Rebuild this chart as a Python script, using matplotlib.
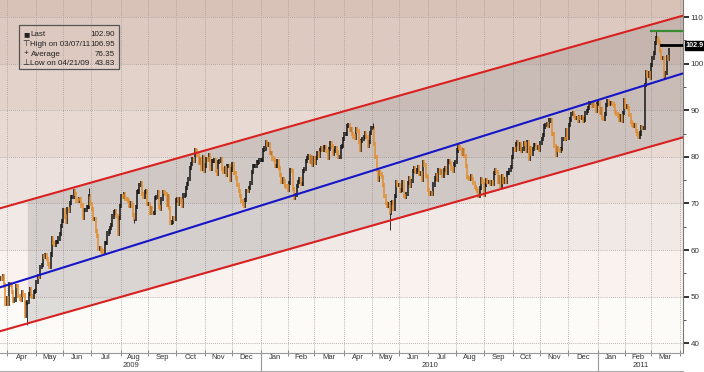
import numpy as np
import pandas as pd
import matplotlib
matplotlib.use("Agg")
import matplotlib.pyplot as plt
import matplotlib.transforms as mtransforms
from matplotlib.lines import Line2D
from matplotlib.patches import Rectangle

plt.rcParams["font.family"] = ["Liberation Sans", "DejaVu Sans"]

# ---------------- data ----------------
start_date = "2009-03-23"
first_open = 53.0
closes = [
    53.80, 53.98, 53.77, 54.34, 52.38,
    48.41, 49.66, 48.39, 52.64, 52.51,
    51.05, 49.15, 49.38, 52.24, 52.20,
    50.05, 49.41, 49.25, 50.98, 50.33,
    45.88, 48.55, 48.85, 50.62, 51.55,
    50.14, 49.92, 50.97, 51.12, 53.20,
    54.47, 54.16, 56.34, 56.71, 58.63,
    58.50, 58.85, 58.02, 56.98, 56.34,
    59.03, 62.45, 61.45, 61.05, 61.67,
    61.67, 62.45, 63.45, 65.08, 66.31,
    68.58, 67.20, 66.12, 68.81, 68.44,
    70.01, 71.33, 71.33, 72.68, 72.04,
    70.62, 70.47, 71.03, 70.89, 69.55,
    66.93, 68.67, 68.67, 69.16, 69.16,
    71.49, 69.89, 68.88, 66.73, 66.73,
    64.05, 62.93, 60.14, 60.41, 59.89,
    59.69, 59.52, 61.54, 61.54, 63.56,
    63.98, 64.72, 65.40, 67.20, 68.05,
    68.38, 67.23, 63.35, 66.94, 69.45,
    71.58, 71.42, 71.97, 70.94, 70.93,
    70.60, 69.45, 70.16, 69.57, 67.51,
    66.75, 69.19, 72.42, 72.54, 73.89,
    74.37, 72.05, 71.43, 72.49, 72.74,
    69.96, 69.96, 68.05, 68.96, 68.02,
    68.02, 71.10, 71.31, 72.47, 69.29,
    68.86, 70.93, 72.51, 72.47, 72.04,
    69.71, 71.55, 68.97, 65.89, 66.02,
    66.84, 66.71, 70.61, 70.82, 69.95,
    70.88, 70.41, 69.57, 71.69, 71.77,
    73.27, 74.15, 75.18, 77.58, 78.53,
    79.61, 79.09, 81.37, 81.19, 80.50,
    78.68, 79.55, 77.46, 79.87, 77.00,
    78.13, 79.60, 79.40, 80.40, 77.43,
    79.05, 79.05, 79.28, 76.94, 76.35,
    78.90, 79.14, 79.58, 77.46, 76.72,
    77.56, 76.02, 77.96, 77.96, 75.05,
    77.28, 78.37, 76.60, 76.46, 75.47,
    73.93, 72.62, 71.67, 70.54, 69.87,
    69.51, 70.69, 72.66, 72.58, 73.36,
    74.40, 76.67, 78.02, 78.05, 78.05,
    78.77, 78.87, 79.36, 79.36, 79.36,
    81.51, 81.77, 83.18, 82.66, 82.75,
    80.79, 80.79, 79.65, 79.39, 78.00,
    78.00, 79.02, 77.62, 76.08, 74.54,
    75.26, 74.71, 73.67, 73.64, 72.89,
    74.43, 77.23, 76.98, 73.14, 71.19,
    71.89, 73.75, 74.52, 75.28, 74.13,
    74.13, 77.01, 77.33, 79.06, 79.81,
    80.16, 78.86, 80.00, 78.17, 79.66,
    78.70, 79.68, 80.87, 80.21, 81.50,
    81.87, 81.49, 82.09, 82.11, 81.24,
    79.80, 81.70, 82.93, 82.20, 80.68,
    81.25, 81.91, 80.91, 80.00, 80.00,
    82.17, 82.37, 83.76, 84.87, 84.87,
    86.62, 86.84, 85.88, 85.88, 84.92,
    84.34, 84.05, 85.84, 85.51, 83.24,
    81.45, 83.45, 83.85, 84.20, 85.12,
    84.20, 82.44, 83.22, 85.17, 86.15,
    86.19, 82.74, 79.97, 77.11, 75.11,
    76.80, 76.37, 75.65, 73.94, 71.61,
    70.08, 69.41, 69.87, 68.01, 70.04,
    70.21, 68.75, 71.51, 74.55, 73.97,
    73.97, 72.58, 72.86, 74.61, 71.51,
    71.44, 71.99, 74.38, 75.48, 73.78,
    74.78, 76.94, 77.67, 76.79, 77.18,
    77.85, 76.35, 76.51, 75.11, 78.86,
    78.26, 75.94, 75.63, 72.95, 72.14,
    72.14, 71.98, 74.07, 75.36, 76.09,
    75.00, 77.15, 76.62, 77.00, 76.01,
    77.14, 77.49, 76.52, 78.98, 78.98,
    78.70, 77.50, 77.00, 78.36, 78.95,
    81.34, 82.55, 82.01, 81.74, 80.70,
    81.48, 80.25, 78.02, 75.74, 75.39,
    75.24, 75.77, 75.24, 74.43, 73.46,
    73.10, 72.63, 71.63, 73.36, 75.17,
    74.70, 71.92, 73.91, 75.02, 74.60,
    74.60, 74.11, 74.67, 74.25, 76.45,
    77.19, 76.80, 74.55, 75.57, 73.66,
    75.86, 74.71, 75.18, 74.71, 76.49,
    76.53, 77.18, 77.86, 79.97, 81.58,
    81.47, 82.82, 83.23, 81.67, 82.66,
    81.24, 81.67, 83.01, 82.69, 81.25,
    83.08, 79.49, 81.77, 80.56, 81.69,
    82.52, 82.55, 81.94, 82.18, 81.43,
    82.95, 83.90, 84.69, 86.49, 86.85,
    87.06, 86.72, 87.81, 87.81, 84.88,
    84.86, 82.34, 80.44, 81.85, 81.51,
    81.25, 81.74, 83.86, 83.86, 83.76,
    85.73, 84.11, 86.75, 88.00, 89.19,
    89.38, 88.69, 88.28, 88.37, 87.79,
    88.61, 88.28, 88.62, 87.70, 88.02,
    89.37, 89.82, 90.48, 91.51, 91.51,
    91.00, 91.49, 90.86, 89.84, 91.38,
    91.55, 89.38, 90.30, 88.38, 88.03,
    89.25, 91.11, 91.86, 91.40, 91.54,
    91.54, 91.38, 90.86, 89.60, 89.11,
    88.87, 87.90, 88.80, 87.60, 89.34,
    92.19, 90.77, 90.86, 90.54, 89.03,
    87.48, 86.94, 86.71, 86.73, 85.58,
    84.81, 84.32, 84.99, 86.36, 86.20,
    86.20, 95.42, 98.10, 97.28, 97.88,
    96.97, 99.63, 101.23, 102.23, 104.42,
    105.44, 105.02, 104.38, 102.70, 101.16,
    101.19, 97.18, 97.98, 101.42, 101.07,
    102.90,
]
# notable wicks (day index, extreme value)
wick_days = [22, 70, 105, 290, 303, 510, 516]
wick_values = [43.83, 73.38, 65.80, 87.15, 64.24, 106.95, 96.60]

# channel / trend lines (values at day index 0 and 531)
line_days = [0, 531]
upper_channel = [68.89, 110.32]
lower_channel = [42.51, 84.20]
mid_trend = [51.93, 97.93]
shade_start_day = 22

legend_labels = ["Last", "High on 03/07/11", "Average", "Low on 04/21/09"]
legend_values = ["102.90", "106.95", "76.35", "43.83"]
legend_symbols = ["\u25A0", "\u22A4", "+", "\u22A5"]
legend_symbol_sizes = [7.5, 6.0, 6.0, 6.0]
last_value = 102.90
last_tag = "102.9"
high_value = 106.95
high_line_start = 506
last_line_start = 514

y_ticks = [40, 50, 60, 70, 80, 90, 100, 110]
y_minor = [45, 55, 65, 75, 85, 95, 105]
month_names = ["Jan", "Feb", "Mar", "Apr", "May", "Jun", "Jul", "Aug",
               "Sep", "Oct", "Nov", "Dec"]
years = ["2009", "2010", "2011"]

# ---------------- figure ----------------
W, H = 704, 372
fig = plt.figure(figsize=(W / 100, H / 100), dpi=100)
fig.patch.set_facecolor("white")
ax = fig.add_axes([0, 1 - 353 / H, 683 / W, 353 / H])
xmin, xmax = 0.79, 530.7
ymin, ymax = 37.9, 113.65
ax.set_xlim(xmin, xmax)
ax.set_ylim(ymin, ymax)

# background bands
band_edges = [ymin, 50, 60, 70, 80, 90, 100, 110, ymax]
band_colors = ["#fdfbf7", "#f9f2ef", "#f1e9e6", "#ece1dc", "#e8dad3",
               "#e3d2ca", "#ddc9c0", "#d8c1b7"]
for lo_, hi_, col in zip(band_edges[:-1], band_edges[1:], band_colors):
    ax.axhspan(lo_, hi_, color=col, lw=0, zorder=0)

# date helpers
all_days = pd.bdate_range(start_date, "2011-04-30")
month_starts = pd.date_range("2009-04-01", "2011-04-01", freq="MS")
month_idx = np.array([np.searchsorted(all_days, m) for m in month_starts]) - 0.5

# grid
grid_kw = dict(color="#a49c98", lw=0.6, linestyle=(0, (1, 1.5)), zorder=1)
for yv in y_ticks:
    ax.axhline(yv, **grid_kw)
for xv in month_idx:
    ax.axvline(xv, **grid_kw)

# channel shading
sx = np.array([shade_start_day, line_days[1]], dtype=float)
ax.fill_between(sx, np.interp(sx, line_days, lower_channel),
                np.interp(sx, line_days, upper_channel),
                color="#707070", alpha=0.22, lw=0, zorder=2)

# lines
ax.plot(line_days, upper_channel, color="#d82020", lw=1.5, zorder=5)
ax.plot(line_days, lower_channel, color="#d82020", lw=1.5, zorder=5)
ax.plot(line_days, mid_trend, color="#1515c8", lw=1.5, zorder=5)

# candles
c = np.array(closes)
o = np.r_[first_open, c[:-1]]
xi = np.arange(len(c))
lo = np.minimum(o, c) - 0.45
hi = np.maximum(o, c) + 0.45
up = c >= o
ax.vlines(xi[up], lo[up], hi[up], colors="#151515", lw=1.1, zorder=4)
ax.vlines(xi[~up], lo[~up], hi[~up], colors="#e38c2c", lw=1.1, zorder=4)
wd = np.array(wick_days)
ax.vlines(wd, c[wd], wick_values, colors="#151515", lw=0.6, zorder=4)

# high / last lines
ax.plot([high_line_start, xmax], [high_value, high_value], color="#3a8a30", lw=1.6, zorder=6)
ax.plot([last_line_start, xmax], [last_value + 1.2, last_value + 1.2], color="black", lw=2.0, zorder=6)

# right axis
ax.yaxis.tick_right()
ax.set_yticks(y_ticks)
ax.set_yticks(y_minor, minor=True)
ax.set_yticklabels([str(v) for v in y_ticks], fontsize=5.8, color="#333333")
ax.tick_params(axis="y", which="major", direction="out", length=4, width=1.3, color="#222222", pad=1.5)
ax.tick_params(axis="y", which="minor", direction="out", length=2, width=0.7, color="#555555")
for s in ["top", "left"]:
    ax.spines[s].set_visible(False)
ax.spines["right"].set_color("#777777")
ax.spines["right"].set_linewidth(0.8)
ax.spines["bottom"].set_color("#999999")
ax.spines["bottom"].set_linewidth(0.8)

# x axis: ticks at month boundaries, labels centered in months
ax.set_xticks(month_idx)
ax.set_xticklabels([])
ax.tick_params(axis="x", which="major", direction="inout", length=4, width=0.7, color="#888888")
trans = mtransforms.blended_transform_factory(ax.transData, ax.transAxes)
for k, m in enumerate(month_starts[:-1]):
    cx = (month_idx[k] + month_idx[k + 1]) / 2
    ax.text(cx, -0.012, month_names[m.month - 1], transform=trans, ha="center",
            va="center", fontsize=5.5, color="#333333", clip_on=False)

y0_idx = np.searchsorted(all_days, pd.Timestamp("2010-01-01")) - 0.5
y1_idx = np.searchsorted(all_days, pd.Timestamp("2011-01-01")) - 0.5
year_centers = [(xmin + y0_idx) / 2, (y0_idx + y1_idx) / 2, (y1_idx + xmax) / 2]
for yc, yl in zip(year_centers, years):
    ax.text(yc, -0.036, yl, transform=trans, ha="center", va="center",
            fontsize=5.5, color="#333333", clip_on=False)
for sep in [y0_idx, y1_idx]:
    ax.plot([sep, sep], [0, -0.052], transform=trans, color="#999999", lw=0.8, clip_on=False)
fig.add_artist(Line2D([0, 683 / W], [1.5 / H, 1.5 / H], color="#aaaaaa", lw=0.8))

# last value tag
ax.text(1.004, (last_value + 1.0 - ymin) / (ymax - ymin), last_tag, transform=ax.transAxes,
        ha="left", va="center", fontsize=5.2, color="white", fontweight="bold",
        bbox=dict(boxstyle="square,pad=0.15", fc="black", ec="black"), clip_on=False, zorder=10)

# legend box
def ax_xy(px, py):
    return px / 683, 1 - py / 353

bx0, by0 = ax_xy(19, 69)
bx1, by1 = ax_xy(119, 25)
ax.add_patch(Rectangle((bx0, by0), bx1 - bx0, by1 - by0, transform=ax.transAxes,
                       fill=False, ec="#555555", lw=0.9, zorder=9))
rows_y = [34.3, 44.0, 54.0, 63.7]
for sym, ssz, lab, val, ry in zip(legend_symbols, legend_symbol_sizes, legend_labels,
                                  legend_values, rows_y):
    ax.text(*ax_xy(26, ry), sym, transform=ax.transAxes, ha="center", va="center",
            fontsize=ssz, color="#222222", zorder=10)
    ax.text(*ax_xy(30.5, ry), lab, transform=ax.transAxes, ha="left", va="center",
            fontsize=5.8, color="#222222", zorder=10)
    ax.text(*ax_xy(115, ry), val, transform=ax.transAxes, ha="right", va="center",
            fontsize=5.8, color="#222222", zorder=10)

fig.savefig("out.png", dpi=100)
